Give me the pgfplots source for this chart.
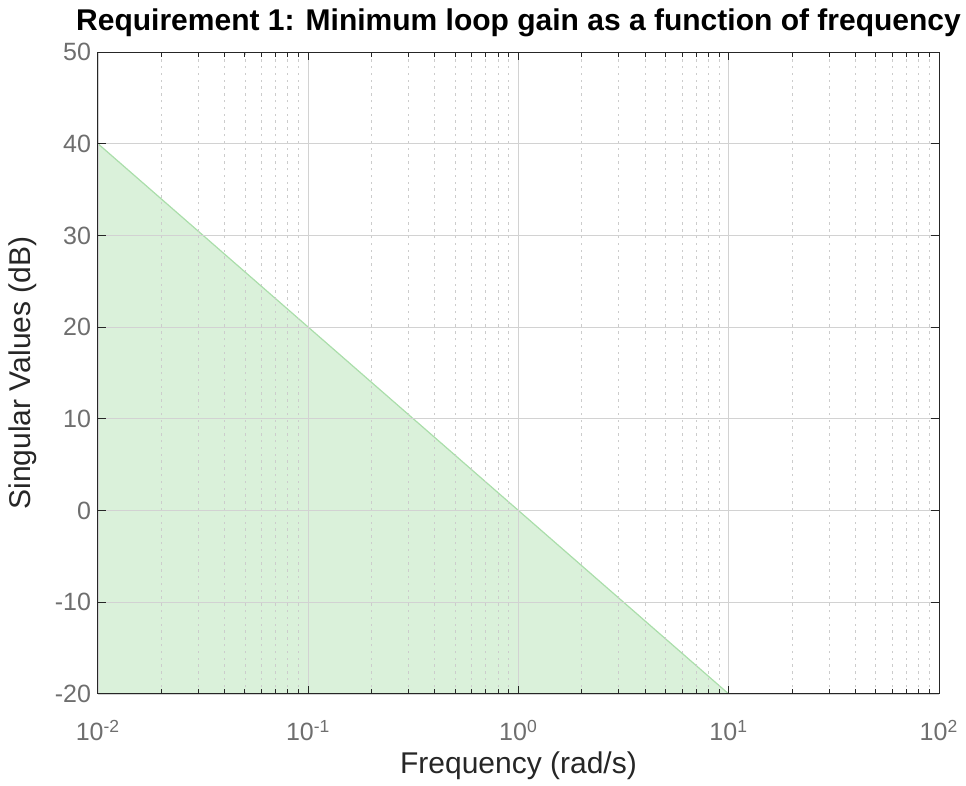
\documentclass[border=0pt]{standalone}
\usepackage{fontspec}
\setmainfont{Liberation Sans}
\usepackage{pgfplots}
\pgfplotsset{compat=1.18}
\definecolor{axcol}{RGB}{38,38,38}
\definecolor{tickcol}{RGB}{110,110,110}
\definecolor{fillg}{RGB}{218,241,218}
\definecolor{edgeg}{RGB}{170,222,170}
\begin{document}
\begin{tikzpicture}[x=1pt,y=1pt]
\useasboundingbox (-49,-46) rectangle (434,347);
\begin{axis}[
  at={(0,0)}, anchor=south west,
  scale only axis, width=420.5pt, height=321pt,
  xmode=log, xmin=0.01, xmax=100, ymin=-20, ymax=50,
  xtick={0.01,0.1,1,10,100},
  xticklabels={10\textsuperscript{-2},10\textsuperscript{-1},10\textsuperscript{0},10\textsuperscript{1},10\textsuperscript{2}},
  ytick={-20,-10,0,10,20,30,40,50},
  /pgf/number format/assume math mode=true,
  tick label style={font=\fontsize{12.5}{14}\selectfont, text=tickcol},
  xticklabel style={yshift=-9.5pt},
  label style={font=\fontsize{15}{17}\selectfont, text=axcol},
  title style={font=\bfseries\fontsize{15}{17}\selectfont, text=black, yshift=-2pt},
  title={Requirement 1: Minimum loop gain as a function of frequency},
  xlabel={Frequency (rad/s)}, ylabel={Singular Values (dB)},
  axis line style={axcol, line width=0.5pt},
  tick style={axcol, line width=0.5pt},
  major tick length=4pt, minor tick length=2.5pt,
  tick align=inside,
  grid=major, xminorgrids=true,
  major grid style={gray!35, line width=0.4pt},
  minor grid style={gray!40, line width=0.45pt, dash pattern=on 1.2pt off 2.2pt},
  axis on top,
  xlabel style={yshift=1.5pt},
  ylabel style={yshift=2pt},
]
\addplot[fill=fillg, draw=edgeg, line width=0.6pt] coordinates {(0.01,40) (10,-20) (100,-20) (0.01,-20)} -- cycle;
\end{axis}
\end{tikzpicture}
\end{document}
